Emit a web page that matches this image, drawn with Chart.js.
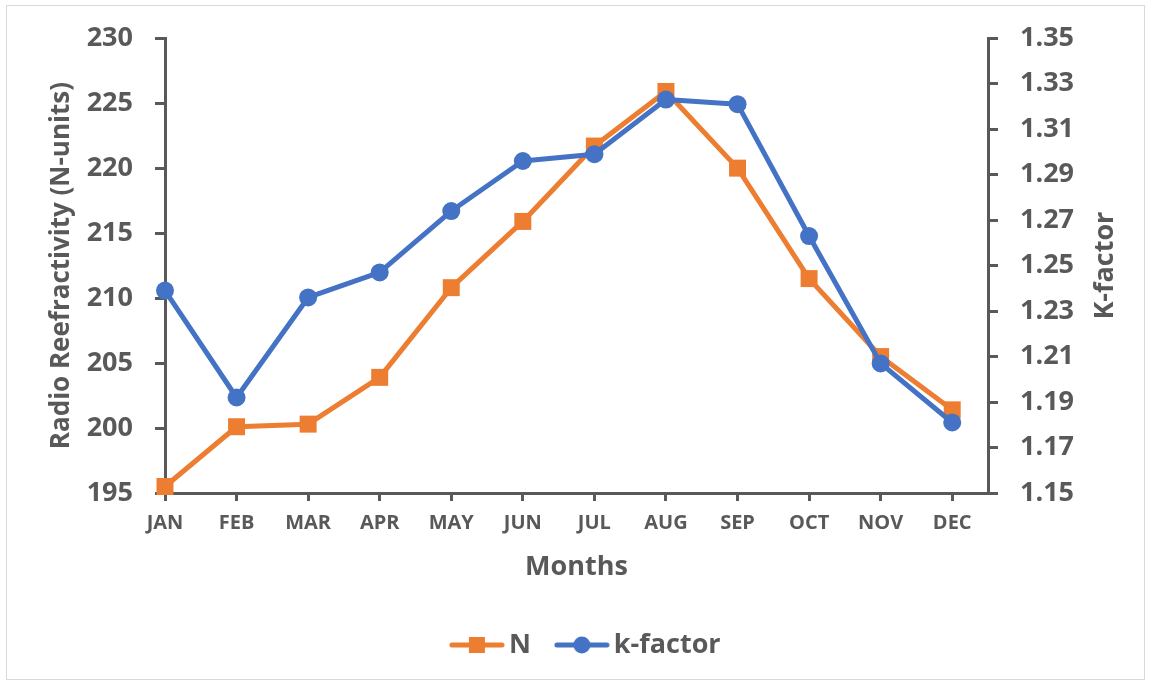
<!DOCTYPE html>
<html>
<head>
<meta charset="utf-8">
<title>Radio Refractivity and k-factor</title>
<script src="https://cdn.jsdelivr.net/npm/chart.js@4/dist/chart.umd.min.js"></script>
<style>
    body { margin: 0; background: #ffffff; }
    #wrap { width: 1151px; height: 685px; }
</style>
</head>
<body>
<div id="wrap"><canvas id="refChart" width="1151" height="685"></canvas></div>
<script>
// Chart data
const months = ["JAN", "FEB", "MAR", "APR", "MAY", "JUN", "JUL", "AUG", "SEP", "OCT", "NOV", "DEC"];
const nValues = [195.5, 200.1, 200.3, 203.9, 210.8, 215.9, 221.7, 225.9, 220.0, 211.5, 205.5, 201.4];
const kValues = [1.239, 1.192, 1.236, 1.247, 1.274, 1.296, 1.299, 1.323, 1.321, 1.263, 1.207, 1.181];

const ORANGE = "#ED7D31";
const BLUE = "#4472C4";
const GREY = "#595959";
const FONT = "'Open Sans', sans-serif";

Chart.defaults.color = GREY;
Chart.defaults.font.family = FONT;
Chart.defaults.font.weight = "bold";

// small line + marker picture used in the legend
function makeSymbol(color, shape) {
    const c = document.createElement("canvas");
    c.width = 56;
    c.height = 20;
    const g = c.getContext("2d");
    g.strokeStyle = color;
    g.fillStyle = color;
    g.lineWidth = 5;
    g.lineCap = "round";
    g.beginPath();
    g.moveTo(3, 10);
    g.lineTo(53, 10);
    g.stroke();
    if (shape === "rect") {
        g.fillRect(20, 2, 16, 16);
    } else {
        g.beginPath();
        g.arc(28, 10, 8.5, 0, Math.PI * 2);
        g.fill();
    }
    return c;
}

const symN = makeSymbol(ORANGE, "rect");
const symK = makeSymbol(BLUE, "circle");

// frame + right axis title (drawn bottom-to-top like the original)
const extras = {
    id: "extras",
    beforeDraw(chart) {
        const ctx = chart.ctx;
        ctx.save();
        ctx.fillStyle = "#ffffff";
        ctx.fillRect(0, 0, chart.width, chart.height);
        ctx.strokeStyle = "#d9d9d9";
        ctx.lineWidth = 1;
        ctx.strokeRect(6.5, 5.5, 1138, 674);
        ctx.restore();
    },
    afterDraw(chart) {
        const ctx = chart.ctx;
        const area = chart.chartArea;
        ctx.save();
        ctx.translate(1105, (area.top + area.bottom) / 2);
        ctx.rotate(-Math.PI / 2);
        ctx.font = "bold 27px " + FONT;
        ctx.fillStyle = GREY;
        ctx.textAlign = "center";
        ctx.textBaseline = "middle";
        ctx.fillText("K-factor", 0, 0);
        ctx.restore();
    }
};

const ctx = document.getElementById("refChart").getContext("2d");

new Chart(ctx, {
    type: "line",
    data: {
        datasets: [
            {
                label: "N",
                data: months.map((m, i) => ({ x: i, y: nValues[i] })),
                yAxisID: "y",
                borderColor: ORANGE,
                backgroundColor: ORANGE,
                borderWidth: 5,
                pointStyle: "rect",
                pointRadius: 12,
                pointBorderWidth: 0,
                borderJoinStyle: "round",
                tension: 0,
                clip: false,
                order: 1
            },
            {
                label: "k-factor",
                data: months.map((m, i) => ({ x: i, y: kValues[i] })),
                yAxisID: "y1",
                borderColor: BLUE,
                backgroundColor: BLUE,
                borderWidth: 5,
                pointStyle: "circle",
                pointRadius: 9,
                pointBorderWidth: 0,
                borderJoinStyle: "round",
                tension: 0,
                clip: false,
                order: 0
            }
        ]
    },
    options: {
        responsive: false,
        animation: false,
        layout: {
            padding: { top: 38, left: 28, right: 0, bottom: 16.5 }
        },
        plugins: {
            tooltip: { enabled: false },
            legend: {
                position: "bottom",
                labels: {
                    usePointStyle: true,
                    pointStyleWidth: 37,
                    padding: 32.5,
                    color: GREY,
                    font: { size: 27, weight: "bold" },
                    generateLabels: () => [
                        { text: "N", pointStyle: symN, fillStyle: ORANGE, strokeStyle: ORANGE, lineWidth: 0, fontColor: GREY, hidden: false, datasetIndex: 0 },
                        { text: "k-factor", pointStyle: symK, fillStyle: BLUE, strokeStyle: BLUE, lineWidth: 0, fontColor: GREY, hidden: false, datasetIndex: 1 }
                    ]
                }
            }
        },
        scales: {
            x: {
                type: "linear",
                min: 0,
                max: 11.5,
                afterFit: (scale) => { scale.height = 106; },
                ticks: {
                    stepSize: 1,
                    includeBounds: false,
                    autoSkip: false,
                    maxRotation: 0,
                    padding: 10,
                    color: GREY,
                    font: { size: 20, weight: "bold" },
                    callback: (v) => months[v]
                },
                grid: { drawOnChartArea: false, drawTicks: true, tickLength: 8, color: GREY, lineWidth: 3 },
                border: { display: true, color: GREY, width: 3 },
                title: {
                    display: true,
                    text: "Months",
                    color: GREY,
                    font: { size: 27, weight: "bold" },
                    padding: { top: 0, bottom: 15.8 }
                }
            },
            y: {
                position: "left",
                min: 195,
                max: 230,
                afterFit: (scale) => { scale.width = 137; },
                ticks: {
                    stepSize: 5,
                    padding: 22,
                    color: GREY,
                    font: { size: 27, weight: "bold" }
                },
                grid: { drawOnChartArea: false, drawTicks: true, tickLength: 10, color: GREY, lineWidth: 3 },
                border: { display: true, color: GREY, width: 3 },
                title: {
                    display: true,
                    text: "Radio Reefractivity (N-units)",
                    color: GREY,
                    font: { size: 26, weight: "bold" },
                    padding: { top: 18.4, bottom: 0 }
                }
            },
            y1: {
                position: "right",
                min: 1.15,
                max: 1.35,
                afterFit: (scale) => { scale.width = 163; },
                ticks: {
                    stepSize: 0.02,
                    padding: 22,
                    color: GREY,
                    font: { size: 27, weight: "bold" },
                    callback: (v) => v.toFixed(2)
                },
                grid: { drawOnChartArea: false, drawTicks: true, tickLength: 10, color: GREY, lineWidth: 3 },
                border: { display: true, color: GREY, width: 3 }
            }
        }
    },
    plugins: [extras]
});
</script>
</body>
</html>
